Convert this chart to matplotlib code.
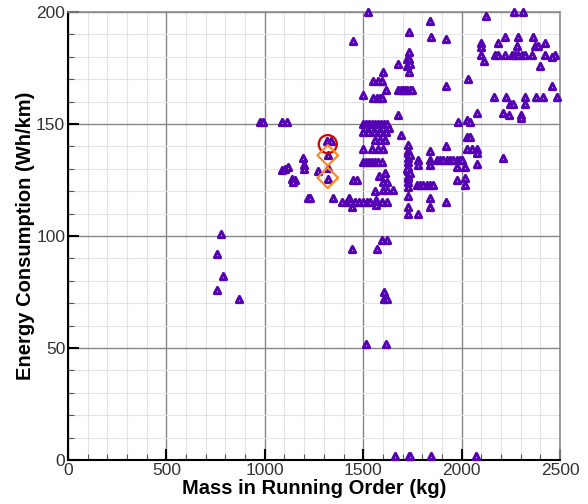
import numpy as np
import matplotlib
matplotlib.use("Agg")
from matplotlib import pyplot as plt
from matplotlib.ticker import MultipleLocator

plt.rcParams['font.family'] = ['Liberation Sans', 'DejaVu Sans']

# vehicle data: (mass kg, energy Wh/km)
pts = [
    # small cars
    (755, 76), (755, 92), (776, 101), (789, 82), (870, 72),
    # 1000-1450 kg
    (976, 151), (993, 151), (1089, 151), (1114, 151),
    (1086, 129.5), (1103, 130), (1119, 131),
    (1137, 125.5), (1153, 125), (1145, 124),
    (1196, 135), (1199, 131.5), (1199, 130),
    (1221, 117), (1230, 117), (1269, 129),
    (1318, 142.5), (1336, 142.5), (1319, 136), (1319, 130.5), (1319, 125.5),
    (1348, 117), (1391, 115), (1416, 115), (1429, 117), (1441, 113),
    (1445, 94), (1450, 187), (1450, 125), (1467, 125),
    # 1450-1650 kg
    (1433, 115), (1460, 115), (1480, 115), (1500, 115), (1520, 115), (1534, 115),
    (1501, 163), (1526, 200), (1514, 52),
    (1551, 169), (1577, 169), (1594, 169), (1599, 173), (1614, 165),
    (1551, 161.5), (1568, 161.5), (1585, 161.5), (1597, 161.5),
    (1500, 150), (1515, 150), (1530, 150), (1545, 150), (1560, 150),
    (1575, 150), (1590, 150), (1605, 150), (1620, 150),
    (1510, 148), (1540, 148), (1570, 148), (1600, 148), (1630, 148),
    (1500, 146.5), (1525, 146.5), (1555, 146.5), (1585, 146.5), (1615, 146.5),
    (1560, 143), (1585, 143), (1610, 143),
    (1501, 138.7), (1547, 138.7), (1575, 138.7), (1600, 138.7),
    (1500, 133), (1515, 133), (1530, 133), (1545, 133), (1560, 133), (1575, 133), (1594, 133),
    (1582, 127), (1611, 128), (1599, 124), (1623, 124),
    (1560, 120), (1602, 120.5), (1619, 120.5), (1653, 120.5),
    (1563, 116), (1563, 114), (1594, 115.3), (1623, 115.3),
    (1572, 94), (1594, 98), (1622, 98), (1607, 75), (1607, 72), (1620, 72), (1616, 52),
    # 1650-1850 kg
    (1679, 177), (1721, 179), (1733, 179), (1721, 176), (1738, 177),
    (1733, 182), (1733, 173), (1733, 191),
    (1677, 165), (1690, 165), (1700, 165), (1712, 165), (1724, 165), (1736, 165), (1748, 165),
    (1679, 154), (1692, 145),
    (1729, 140.6), (1729, 138), (1729, 137), (1729, 135), (1729, 133), (1729, 131),
    (1729, 129), (1729, 127), (1729, 126), (1729, 124), (1729, 122), (1729, 118),
    (1729, 113), (1729, 110), (1722, 130), (1738, 128), (1738, 136),
    (1780, 134), (1780, 131.7), (1780, 110),
    (1772, 122.8), (1790, 122.8), (1806, 122.8), (1822, 122.8), (1840, 122.8), (1856, 122.8),
    (1839, 196), (1843, 189), (1839, 138), (1839, 134), (1839, 131.7), (1839, 117), (1839, 113),
    # 1850-2100 kg
    (1921, 188), (1921, 167), (1921, 140), (1921, 115.4),
    (1873, 134), (1890, 134), (1905, 134), (1924, 134), (1940, 134),
    (1955, 134), (1975, 134), (1992, 134), (2000, 134),
    (1975, 131), (2017, 131), (1975, 125), (2017, 125.7), (2017, 122.8),
    (1983, 150.7), (2026, 151.8), (2043, 150.7),
    (2026, 144), (2043, 144),
    (2026, 139), (2051, 139), (2077, 139), (2077, 137),
    (2077, 155), (2077, 132), (2034, 170),
    (2099, 186), (2099, 184.5), (2099, 181), (2114, 178), (2124, 198),
    # heavy cars
    (2212, 135),
    (2166, 162), (2226, 162), (2322, 162), (2378, 162), (2412, 162), (2483, 162),
    (2246, 159), (2263, 159), (2322, 159),
    (2212, 155), (2243, 154), (2300, 154), (2300, 152.5),
    (2266, 200), (2310, 200),
    (2221, 189), (2288, 189), (2365, 189),
    (2187, 186), (2280, 185), (2373, 185), (2390, 185), (2424, 186),
    (2170, 181), (2187, 181), (2221, 181), (2255, 181), (2271, 181), (2288, 181),
    (2305, 181), (2322, 181), (2356, 181), (2424, 181), (2475, 181), (2458, 180),
    (2398, 176), (2461, 167),
    # zero values
    (1662, 2), (1733, 2), (1740, 2), (1843, 2), (2073, 2),
]
mass = [p[0] for p in pts]
energy = [p[1] for p in pts]

# highlighted vehicles
circ_mass = [1320]
circ_energy = [141]
diam_mass = [1320, 1320]
diam_energy = [136, 126]

fig = plt.figure(figsize=(5.88, 5.04), dpi=100)
ax = fig.add_axes([0.1156, 0.0873, 0.8368, 0.8889])

ax.scatter(mass, energy, marker='^', s=20, facecolors='white',
           edgecolors='#5500b5', linewidths=2.2, zorder=3, clip_on=False)
ax.scatter(circ_mass, circ_energy, marker='o', s=170, facecolors='none',
           edgecolors='#d40000', linewidths=1.6, zorder=4)
ax.scatter(diam_mass, diam_energy, marker='D', s=110, facecolors='none',
           edgecolors='#ff8a1c', linewidths=1.6, zorder=4)

ax.set_xlim(0, 2500)
ax.set_ylim(0, 200)
ax.xaxis.set_major_locator(MultipleLocator(500))
ax.xaxis.set_minor_locator(MultipleLocator(100))
ax.yaxis.set_major_locator(MultipleLocator(50))
ax.yaxis.set_minor_locator(MultipleLocator(10))

ax.grid(which='major', color='#858585', lw=1.0)
ax.grid(which='minor', color='#e3e3e3', lw=0.8)
ax.set_axisbelow(True)

ax.tick_params(which='major', direction='in', length=8, width=1.5,
               labelsize=12.5, labelcolor='#333333', pad=2)
ax.tick_params(which='minor', direction='in', length=4, width=0.8, color='#555555')

for s in ['left', 'bottom']:
    ax.spines[s].set_linewidth(1.5)
    ax.spines[s].set_color('black')
for s in ['top', 'right']:
    ax.spines[s].set_linewidth(1.2)
    ax.spines[s].set_color('#8c8c8c')

ax.set_xlabel("Mass in Running Order (kg)", fontsize=14.5, fontweight='bold', labelpad=1)
ax.set_ylabel("Energy Consumption (Wh/km)", fontsize=14.5, fontweight='bold', labelpad=1)

plt.savefig("out.png", dpi=100)
